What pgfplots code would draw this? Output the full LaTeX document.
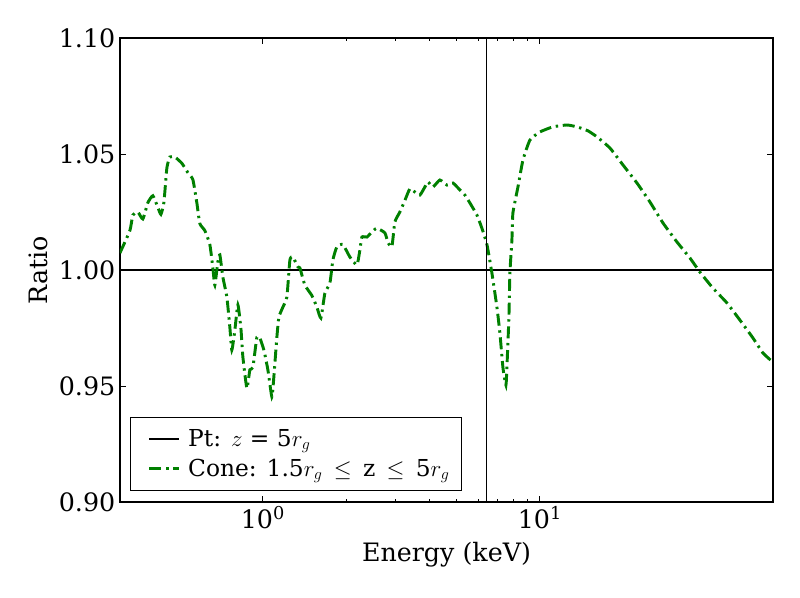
\documentclass[border=0pt]{standalone}
\usepackage{pgfplots}
\pgfplotsset{compat=1.18}
\usepackage{fontspec}
\setmainfont{DejaVu Serif}
\definecolor{mplgreen}{HTML}{008000}
\begin{document}
\begin{tikzpicture}
\begin{axis}[
  name=ax,
  scale only axis,
  width=489.75pt, height=348pt,
  xmode=log,
  xmin=0.305, xmax=69.4,
  ymin=0.9, ymax=1.1,
  ytick={0.9,0.95,1,1.05,1.1},
  xtick={1,10},
  xticklabels={10\textsuperscript{0},10\textsuperscript{1}},
  yticklabel style={/pgf/number format/.cd, fixed, fixed zerofill, precision=2, assume math mode=true},
  tick label style={font=\fontsize{19}{22}\selectfont},
  xlabel={Energy (keV)},
  ylabel={Ratio},
  every axis x label/.style={at={(axis description cs:0.5,-0.114)}, anchor=center, font=\fontsize{19}{22}\selectfont},
  every axis y label/.style={at={(axis description cs:-0.1256,0.5)}, rotate=90, anchor=center, font=\fontsize{19}{22}\selectfont},
  axis line style={line width=0.9pt},
  major tick length=4.5pt,
  minor tick length=2.3pt,
  every tick/.style={black, line width=0.7pt},
  tick align=inside,
  legend style={at={(0.015,0.024)}, anchor=south west, draw=black, line width=0.75pt,
    font=\fontsize{17.5}{21}\selectfont, row sep=4pt, inner xsep=7pt, inner ysep=7pt},
  legend cell align=left,
  legend image code/.code={\path[draw=none] (0cm,0cm) -- (1.21cm,0cm); \draw[#1] plot coordinates {(0.26cm,0cm) (1.05cm,0cm)};},
]
\addplot[black, line width=1.8pt] coordinates {(0.305,1) (69.4,1)};
\addlegendentry{Pt: $z$ = 5$r_g$}
\addplot[mplgreen, line width=2.2pt, smooth, tension=0.3, dash pattern=on 9pt off 3.5pt on 1.8pt off 3.5pt] table {
0.3047 1.0073
0.3311 1.017
0.3394 1.0237
0.3538 1.025
0.3688 1.022
0.3845 1.029
0.4008 1.032
0.4178 1.027
0.4284 1.024
0.4392 1.029
0.4503 1.044
0.4616 1.0487
0.4812 1.0487
0.5100 1.046
0.5360 1.042
0.5588 1.039
0.5776 1.029
0.5922 1.020
0.6173 1.017
0.6435 1.011
0.6598 1.001
0.6709 0.9935
0.6878 1.0035
0.6994 1.0065
0.7170 0.997
0.7413 0.9884
0.7600 0.9754
0.7727 0.9655
0.7922 0.974
0.8124 0.985
0.8329 0.975
0.8469 0.9625
0.8756 0.949
0.8977 0.957
0.9203 0.958
0.9513 0.971
0.9754 0.9707
1.0083 0.9655
1.0424 0.957
1.0777 0.9453
1.0956 0.954
1.1233 0.971
1.1424 0.9797
1.1808 0.984
1.2210 0.9884
1.2518 1.0043
1.2834 1.0056
1.3378 1.0013
1.3602 1.0009
1.4178 0.9935
1.5028 0.989
1.5666 0.984
1.6198 0.9793
1.6745 0.990
1.7458 0.9944
1.7894 1.0043
1.8498 1.010
1.9445 1.011
2.0611 1.0056
2.1848 1.0022
2.2399 1.0086
2.2773 1.0142
2.3741 1.0142
2.4747 1.0164
2.5797 1.018
2.7565 1.016
2.8262 1.012
2.9218 1.010
2.9957 1.0207
3.1227 1.025
3.2552 1.030
3.3935 1.035
3.5375 1.0336
3.6881 1.0323
3.8446 1.0358
3.9420 1.038
4.1095 1.0358
4.3551 1.0388
4.6163 1.0366
4.8528 1.0375
5.1429 1.0345
5.3608 1.0323
5.5888 1.0289
5.9238 1.0237
6.1745 1.018
6.4372 1.011
6.7100 0.9987
6.9952 0.984
7.1716 0.9728
7.3530 0.958
7.5392 0.9504
7.6019 0.958
7.7291 0.9797
7.7936 0.9987
7.9244 1.0129
7.9906 1.0246
8.3315 1.0358
8.6850 1.0474
9.2030 1.056
10 1.0595
11.141 1.0617
12.515 1.0625
13.600 1.0617
14.906 1.060
16.06 1.0574
17.89 1.0526
19.94 1.0453
22.40 1.0375
24.96 1.0293
27.80 1.0203
31.23 1.0121
34.79 1.0052
37.82 0.9991
42.12 0.9922
47.33 0.9858
52.72 0.9784
58.75 0.9707
63.86 0.9642
69.37 0.9603
};
\addlegendentry{Cone: 1.5$r_g$ $\,\leq\,$ z $\,\leq\,$ 5$r_g$}
\addplot[black, line width=1pt, forget plot] coordinates {(6.4,0.9) (6.4,1.1)};
\end{axis}
\pgfresetboundingbox
\path[use as bounding box] ([xshift=-90pt,yshift=-71.25pt]ax.south west) rectangle ([xshift=20.25pt,yshift=28.5pt]ax.north east);
\end{tikzpicture}
\end{document}
